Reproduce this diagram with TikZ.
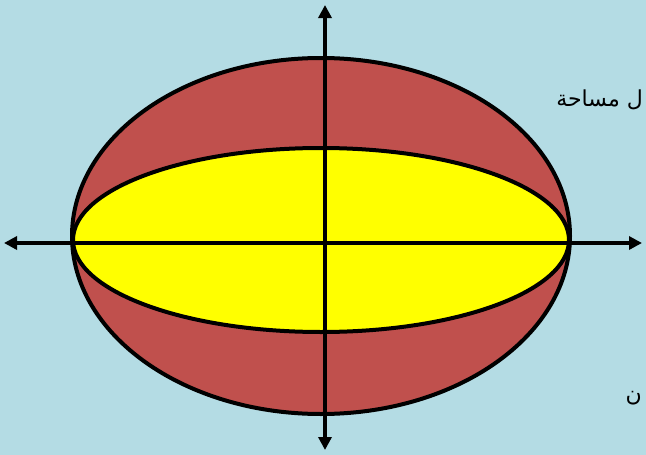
\documentclass[tikz,border=0pt]{standalone}
\usepackage{fontspec}
\usetikzlibrary{arrows.meta}
\newfontfamily\arabicfont[Script=Arabic]{DejaVu Sans}
\TeXXeTstate=1
\definecolor{bgblue}{RGB}{180,220,228}
\definecolor{ellred}{RGB}{192,80,77}
\definecolor{ellyellow}{RGB}{255,255,0}
\tikzset{
  axis/.style={line width=4.5pt, -{Triangle[length=13pt,width=13pt]}},
  outline/.style={draw=black, line width=4pt},
  label/.style={font=\arabicfont\fontsize{22pt}{26pt}\selectfont, inner sep=0pt, text=black}
}
\begin{document}
\begin{tikzpicture}[x=1pt,y=-1pt]
\fill[bgblue] (0,0) rectangle (646,455);
\useasboundingbox (0,0) rectangle (646,455);
\path[outline, fill=ellred] (321,236) ellipse [x radius=249, y radius=178];
\path[outline, fill=ellyellow] (321,240) ellipse [x radius=248, y radius=92];
\coordinate (xl) at (321,243);
\coordinate (yc) at (325,240);
\coordinate (left) at (4,243);
\coordinate (right) at (642,243);
\coordinate (top) at (325,5);
\coordinate (bottom) at (325,450);
\draw[axis] (xl) -- (left);
\draw[axis] (xl) -- (right);
\draw[axis] (yc) -- (top);
\draw[axis] (yc) -- (bottom);
\node[label, anchor=east] (t1) at (643,100) {\beginR ل مساحة\endR};
\node[label, anchor=east] (t2) at (642,398) {\beginR ن\endR};
\end{tikzpicture}
\end{document}
